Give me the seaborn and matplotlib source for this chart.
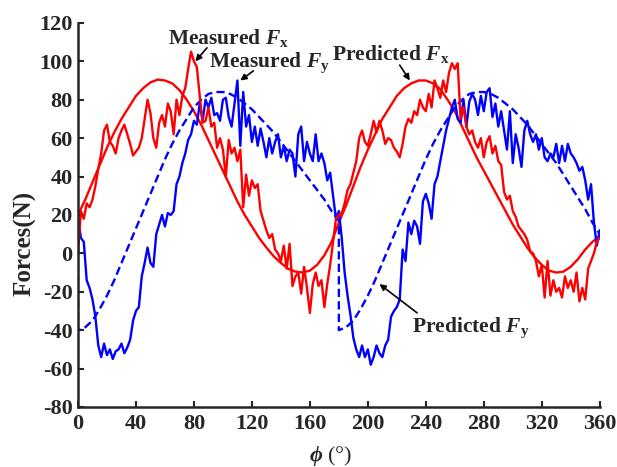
import matplotlib
matplotlib.use("Agg")
import matplotlib.pyplot as plt
import numpy as np
import pandas as pd
import seaborn as sns

# measured forces, read every 2 degrees
phi_meas = np.arange(0, 361, 2)
fx_meas = [0, 22, 18, 26, 24, 28, 35, 44, 52, 64,
           67, 58, 56, 52, 60, 64, 67, 62, 57, 51,
           53, 55, 60, 70, 80, 73, 60, 55, 68, 72,
           66, 78, 74, 62, 80, 72, 82, 86, 96, 105,
           100, 97, 82, 68, 69, 76, 66, 68, 55, 60,
           54, 40, 59, 52, 55, 48, 54, 24, 41, 30,
           38, 34, 36, 22, 17, 12, 8, 10, 2, 0,
           -4, 4, -8, 5, -17, -12, -10, -21, -7, -18,
           -31, -16, -10, -17, -14, -28, -16, -6, 6, 18,
           20, 21, 26, 33, 36, 42, 48, 60, 64, 58,
           56, 62, 69, 63, 69, 64, 57, 60, 59, 55,
           53, 50, 57, 66, 70, 68, 74, 72, 80, 76,
           74, 83, 76, 90, 86, 81, 90, 84, 94, 99,
           96, 99, 70, 76, 66, 62, 64, 58, 55, 60,
           50, 58, 61, 52, 56, 48, 46, 32, 28, 30,
           22, 19, 14, 12, 10, 7, 1, 0, -4, -12,
           -6, -23, -4, -22, -14, -20, -18, -23, -12, -18,
           -14, -20, -10, -25, -18, -24, -8, -4, 0, 6,
           8]
fy_meas = [19, 8, 6, -14, -18, -24, -33, -48, -54, -47,
           -53, -50, -55, -51, -50, -47, -52, -49, -45, -35,
           -30, -28, -12, -5, 3, -5, -7, 10, 15, 20,
           14, 21, 20, 22, 36, 40, 47, 52, 59, 62,
           69, 67, 78, 69, 80, 76, 81, 72, 73, 69,
           80, 81, 71, 66, 78, 90, 56, 84, 66, 72,
           58, 66, 56, 65, 58, 50, 60, 52, 58, 62,
           50, 56, 48, 54, 52, 40, 62, 66, 48, 58,
           52, 48, 62, 48, 52, 47, 38, 42, 30, 18,
           22, 8, -10, -22, -32, -44, -50, -54, -48, -54,
           -50, -58, -54, -48, -52, -54, -48, -45, -33, -30,
           -28, -24, 2, -4, 16, 10, 17, 14, 5, 27,
           31, 26, 18, 36, 40, 48, 56, 64, 70, 76,
           80, 70, 68, 80, 66, 79, 83, 80, 72, 82,
           74, 84, 86, 71, 78, 66, 74, 64, 54, 74,
           47, 62, 55, 45, 64, 69, 62, 58, 62, 54,
           60, 50, 48, 52, 50, 57, 47, 56, 48, 57,
           52, 50, 47, 43, 45, 38, 28, 36, 16, 4,
           12]

# predicted forces, read every 5 degrees
phi_pred = np.arange(0, 361, 5)
fx_pred = [20, 28, 37, 46, 55, 63, 70, 76, 82, 86, 89, 90.5, 90, 88.5, 85,
           80, 74, 67, 59, 51, 43, 35, 27, 20, 14, 8, 3, -1.5, -5, -8,
           -9.5, -10, -9, -6, -1, 6, 16,
           25, 35, 45, 54, 62, 70, 76, 82, 86, 88.5, 90, 90, 88.5, 85.5,
           80, 74, 66, 58, 50, 43, 36, 29, 22, 15, 9, 3, -2, -6, -9, -10,
           -9.5, -7, -3, 2, 6, 9]
fy_pred_half1 = [-40, -38.5, -35, -29, -22, -14, -5, 4, 13, 22, 31, 40, 49,
                 57, 64, 70, 76, 80, 83, 84, 84, 83, 81, 78, 75, 71, 67, 63,
                 58, 53, 48, 43, 38, 33, 28, 22, 17]
fy_pred_half2 = [-40, -38.5, -35, -29, -22, -14, -5, 4, 13, 22, 31, 40, 49,
                 57, 64, 70, 76, 80, 83, 84, 84, 83, 81, 78, 75, 71, 67, 62,
                 57, 52, 47, 41, 35, 29, 23, 16, 10]
fy_pred_start = 15

# predicted Fy jumps back at 0 and 180 degrees
phi_fy_pred = np.concatenate([[0], np.arange(0, 181, 5), np.arange(180, 361, 5)])
fy_pred = [fy_pred_start] + fy_pred_half1 + fy_pred_half2

df_meas = pd.DataFrame({'phi': phi_meas, 'Fx': fx_meas, 'Fy': fy_meas})
df_px = pd.DataFrame({'phi': phi_pred, 'Fx': fx_pred})
df_py = pd.DataFrame({'phi': phi_fy_pred, 'Fy': fy_pred})

sns.set_style('ticks')
plt.rcParams['font.family'] = ['Liberation Serif', 'DejaVu Serif']
plt.rcParams['font.weight'] = 'bold'
plt.rcParams['axes.unicode_minus'] = False
plt.rcParams['mathtext.fontset'] = 'custom'
plt.rcParams['mathtext.rm'] = 'Liberation Serif:bold'
plt.rcParams['mathtext.it'] = 'Liberation Serif:bold:italic'
plt.rcParams['mathtext.bf'] = 'Liberation Serif:bold'

fig = plt.figure(figsize=(6.17, 4.67), dpi=100)
ax = fig.add_axes([0.1264, 0.1285, 0.8456, 0.8225])

red = '#ff0000'
blue = '#0000ff'
sns.lineplot(data=df_px, x='phi', y='Fx', color=red, lw=1.7, ax=ax,
             estimator=None, sort=False)
sns.lineplot(data=df_py, x='phi', y='Fy', color=blue, lw=1.7, ax=ax,
             estimator=None, sort=False, linestyle=(0, (3.5, 1.8)))
sns.lineplot(data=df_meas, x='phi', y='Fy', color=blue, lw=1.7, ax=ax,
             estimator=None, sort=False)
sns.lineplot(data=df_meas, x='phi', y='Fx', color=red, lw=1.7, ax=ax,
             estimator=None, sort=False)

ax.set_xlim(0, 360)
ax.set_ylim(-80, 120)
ax.set_xticks(np.arange(0, 361, 40))
ax.set_yticks(np.arange(-80, 121, 20))
ax.tick_params(direction='in', length=4, width=1.5, labelsize=16)
ax.tick_params(axis='x', pad=5)
ax.tick_params(axis='y', pad=4)
for lab in ax.get_xticklabels() + ax.get_yticklabels():
    lab.set_fontweight('bold')
for side in ['left', 'bottom']:
    ax.spines[side].set_linewidth(1.8)
sns.despine(ax=ax)

ax.set_ylabel('Forces(N)', fontsize=18, fontweight='bold')
ax.set_xlabel(r'$\phi$ (°)', fontsize=16, fontweight='normal')
ax.yaxis.set_label_coords(-0.08, 0.427)
ax.xaxis.set_label_coords(0.485, -0.097)

arrow = dict(arrowstyle='-|>', color='black', lw=1.2, mutation_scale=9,
             shrinkA=0, shrinkB=0)
txt = dict(fontsize=15.5, fontweight='bold', ha='center', va='center')
ax.text(104, 112, r'Measured $F_\mathrm{x}$', **txt)
ax.annotate('', xy=(81, 100), xytext=(89, 107), arrowprops=arrow)
ax.text(132, 99.5, r'Measured $F_\mathrm{y}$', **txt)
ax.annotate('', xy=(112, 90), xytext=(121, 95), arrowprops=arrow)
ax.text(216, 104, r'Predicted $F_\mathrm{x}$', **txt)
ax.annotate('', xy=(229, 90), xytext=(222, 98), arrowprops=arrow)
ax.text(271, -39, r'Predicted $F_\mathrm{y}$', **txt)
ax.annotate('', xy=(208, -16), xytext=(234, -31), arrowprops=arrow)

fig.savefig('out.png', dpi=100)
